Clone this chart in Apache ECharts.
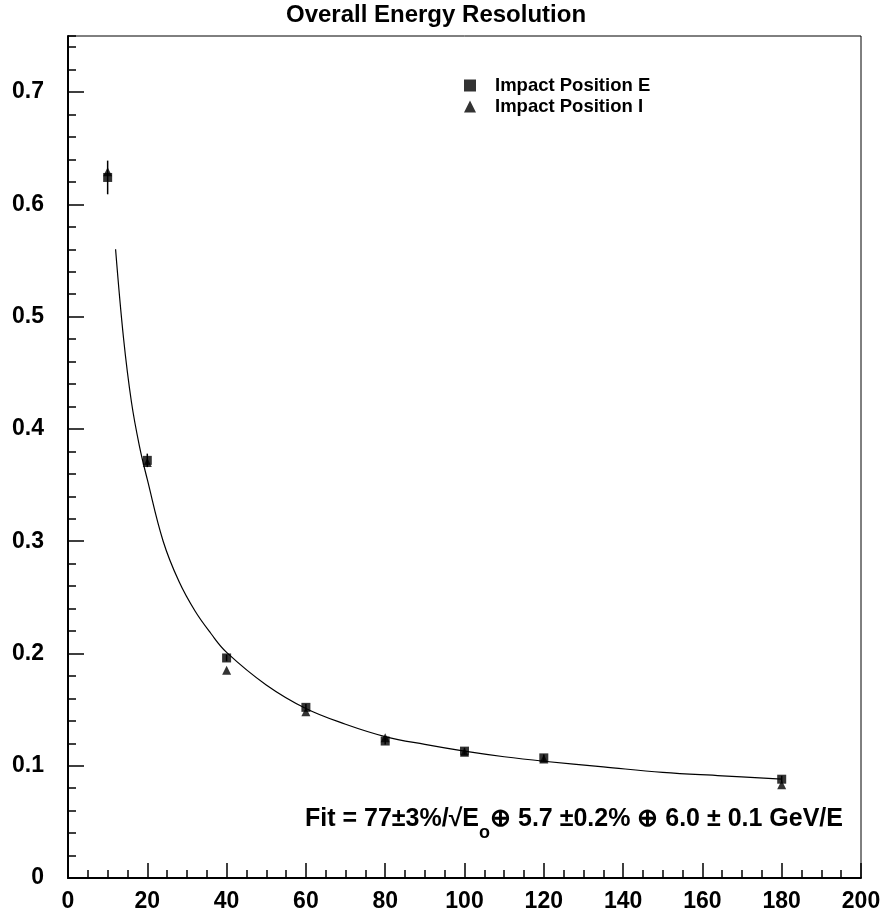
<!DOCTYPE html>
<html>
<head>
<meta charset="utf-8">
<title>Overall Energy Resolution</title>
<script src="https://cdn.jsdelivr.net/npm/echarts@6/dist/echarts.min.js"></script>
<style>
  html, body { margin: 0; padding: 0; background: #fff; }
  #main { width: 886px; height: 913px; }
</style>
</head>
<body>
<div id="main"></div>
<script>
// beam energies (GeV)
var energies = [10, 20, 40, 60, 80, 100, 120, 180];
// resolution, impact position E (squares) and its error
var resE = [0.624, 0.372, 0.196, 0.152, 0.122, 0.113, 0.107, 0.088];
var errE = [0.015, 0.006, 0.003, 0.003, 0.003, 0.003, 0.003, 0.003];
// resolution, impact position I (triangles)
var resI = [0.629, 0.370, 0.185, 0.148, 0.125, 0.112, 0.106, 0.083];
// fit curve
var fitX = [12, 14, 16, 18, 20, 24, 28, 32, 36, 40, 50, 60, 70, 80, 90, 100, 110, 120, 135, 150, 165, 180];
var fitY = [0.560, 0.481, 0.424, 0.385, 0.355, 0.300, 0.264, 0.238, 0.218, 0.201, 0.172, 0.151, 0.137, 0.126, 0.119, 0.113, 0.108, 0.104, 0.099, 0.094, 0.091, 0.088];

var font = '"Liberation Sans", Arial, sans-serif';

var pointsE = energies.map(function (x, i) { return [x, resE[i]]; });
var pointsI = energies.map(function (x, i) { return [x, resI[i]]; });
var bars = energies.map(function (x, i) { return [x, resE[i] - errE[i], resE[i] + errE[i]]; });
var fitLine = fitX.map(function (x, i) { return [x, fitY[i]]; });

var myChart = echarts.init(document.getElementById('main'));

var labelStyle = { color: '#000', fontFamily: font, fontWeight: 'bold', fontSize: 23 };

var option = {
  animation: false,
  backgroundColor: '#fff',
  grid: { left: 68, right: 25, top: 36, bottom: 32, show: true, borderColor: '#000', borderWidth: 1 },
  graphic: [
    {
      type: 'text', x: 436, y: 3,
      style: { text: 'Overall Energy Resolution', fill: '#000', font: 'bold 24px ' + font, textAlign: 'center' }
    },
    {
      type: 'text', x: 305, y: 807,
      style: {
        text: '{a|Fit = 77±3%/√E}{s|o}{a|⊕ 5.7 ±0.2% ⊕ 6.0 ± 0.1 GeV/E}',
        rich: {
          a: { fontFamily: font, fontWeight: 'bold', fontSize: 25, lineHeight: 27, verticalAlign: 'top', color: '#000' },
          s: { fontFamily: font, fontWeight: 'bold', fontSize: 18, lineHeight: 52, color: '#000' }
        }
      }
    }
  ],
  legend: {
    orient: 'vertical', left: 459, top: 71, itemGap: 2, itemWidth: 12, itemHeight: 12,
    textStyle: { color: '#000', fontFamily: font, fontWeight: 'bold', fontSize: 18.5, padding: [0, 0, 0, 14] },
    data: [
      { name: 'Impact Position E', icon: 'rect' },
      { name: 'Impact Position I', icon: 'triangle' }
    ]
  },
  xAxis: [
    {
      type: 'value', min: 0, max: 200, interval: 20, position: 'bottom',
      axisLine: { lineStyle: { color: '#000', width: 2 } },
      axisTick: { inside: true, length: 15, lineStyle: { color: '#000', width: 1.5 } },
      axisLabel: Object.assign({ margin: 12 }, labelStyle),
      splitLine: { show: false }
    },
    {
      type: 'value', min: 0, max: 200, interval: 5, position: 'bottom',
      axisLine: { show: false },
      axisTick: { inside: true, length: 8, lineStyle: { color: '#000', width: 1.5 } },
      axisLabel: { show: false },
      splitLine: { show: false }
    }
  ],
  yAxis: [
    {
      type: 'value', min: 0, max: 0.75, interval: 0.1, position: 'left',
      axisLine: { lineStyle: { color: '#000', width: 2 } },
      axisTick: { inside: true, length: 16, lineStyle: { color: '#000', width: 1.5 } },
      axisLabel: Object.assign({ margin: 24, showMaxLabel: false }, labelStyle),
      splitLine: { show: false }
    },
    {
      type: 'value', min: 0, max: 0.75, interval: 0.02, position: 'left',
      axisLine: { show: false },
      axisTick: { inside: true, length: 8, lineStyle: { color: '#000', width: 1.5 } },
      axisLabel: { show: false },
      splitLine: { show: false }
    }
  ],
  series: [
    {
      name: 'fit', type: 'line', data: fitLine, smooth: 0.4,
      showSymbol: false, lineStyle: { color: '#000', width: 1.2 }, z: 1
    },
    {
      name: 'errors', type: 'custom', data: bars, encode: { x: 0, y: [1, 2] }, z: 2,
      renderItem: function (params, api) {
        var top = api.coord([api.value(0), api.value(2)]);
        var bottom = api.coord([api.value(0), api.value(1)]);
        return {
          type: 'line',
          shape: { x1: top[0], y1: top[1], x2: bottom[0], y2: bottom[1] },
          style: { stroke: '#000', lineWidth: 1.5 }
        };
      }
    },
    {
      name: 'Impact Position I', type: 'scatter', symbol: 'triangle', symbolSize: 9,
      data: pointsI, itemStyle: { color: '#000' }, z: 3
    },
    {
      name: 'Impact Position E', type: 'scatter', symbol: 'rect', symbolSize: 9,
      data: pointsE, itemStyle: { color: '#000' }, z: 4
    }
  ]
};

myChart.setOption(option);
</script>
</body>
</html>
